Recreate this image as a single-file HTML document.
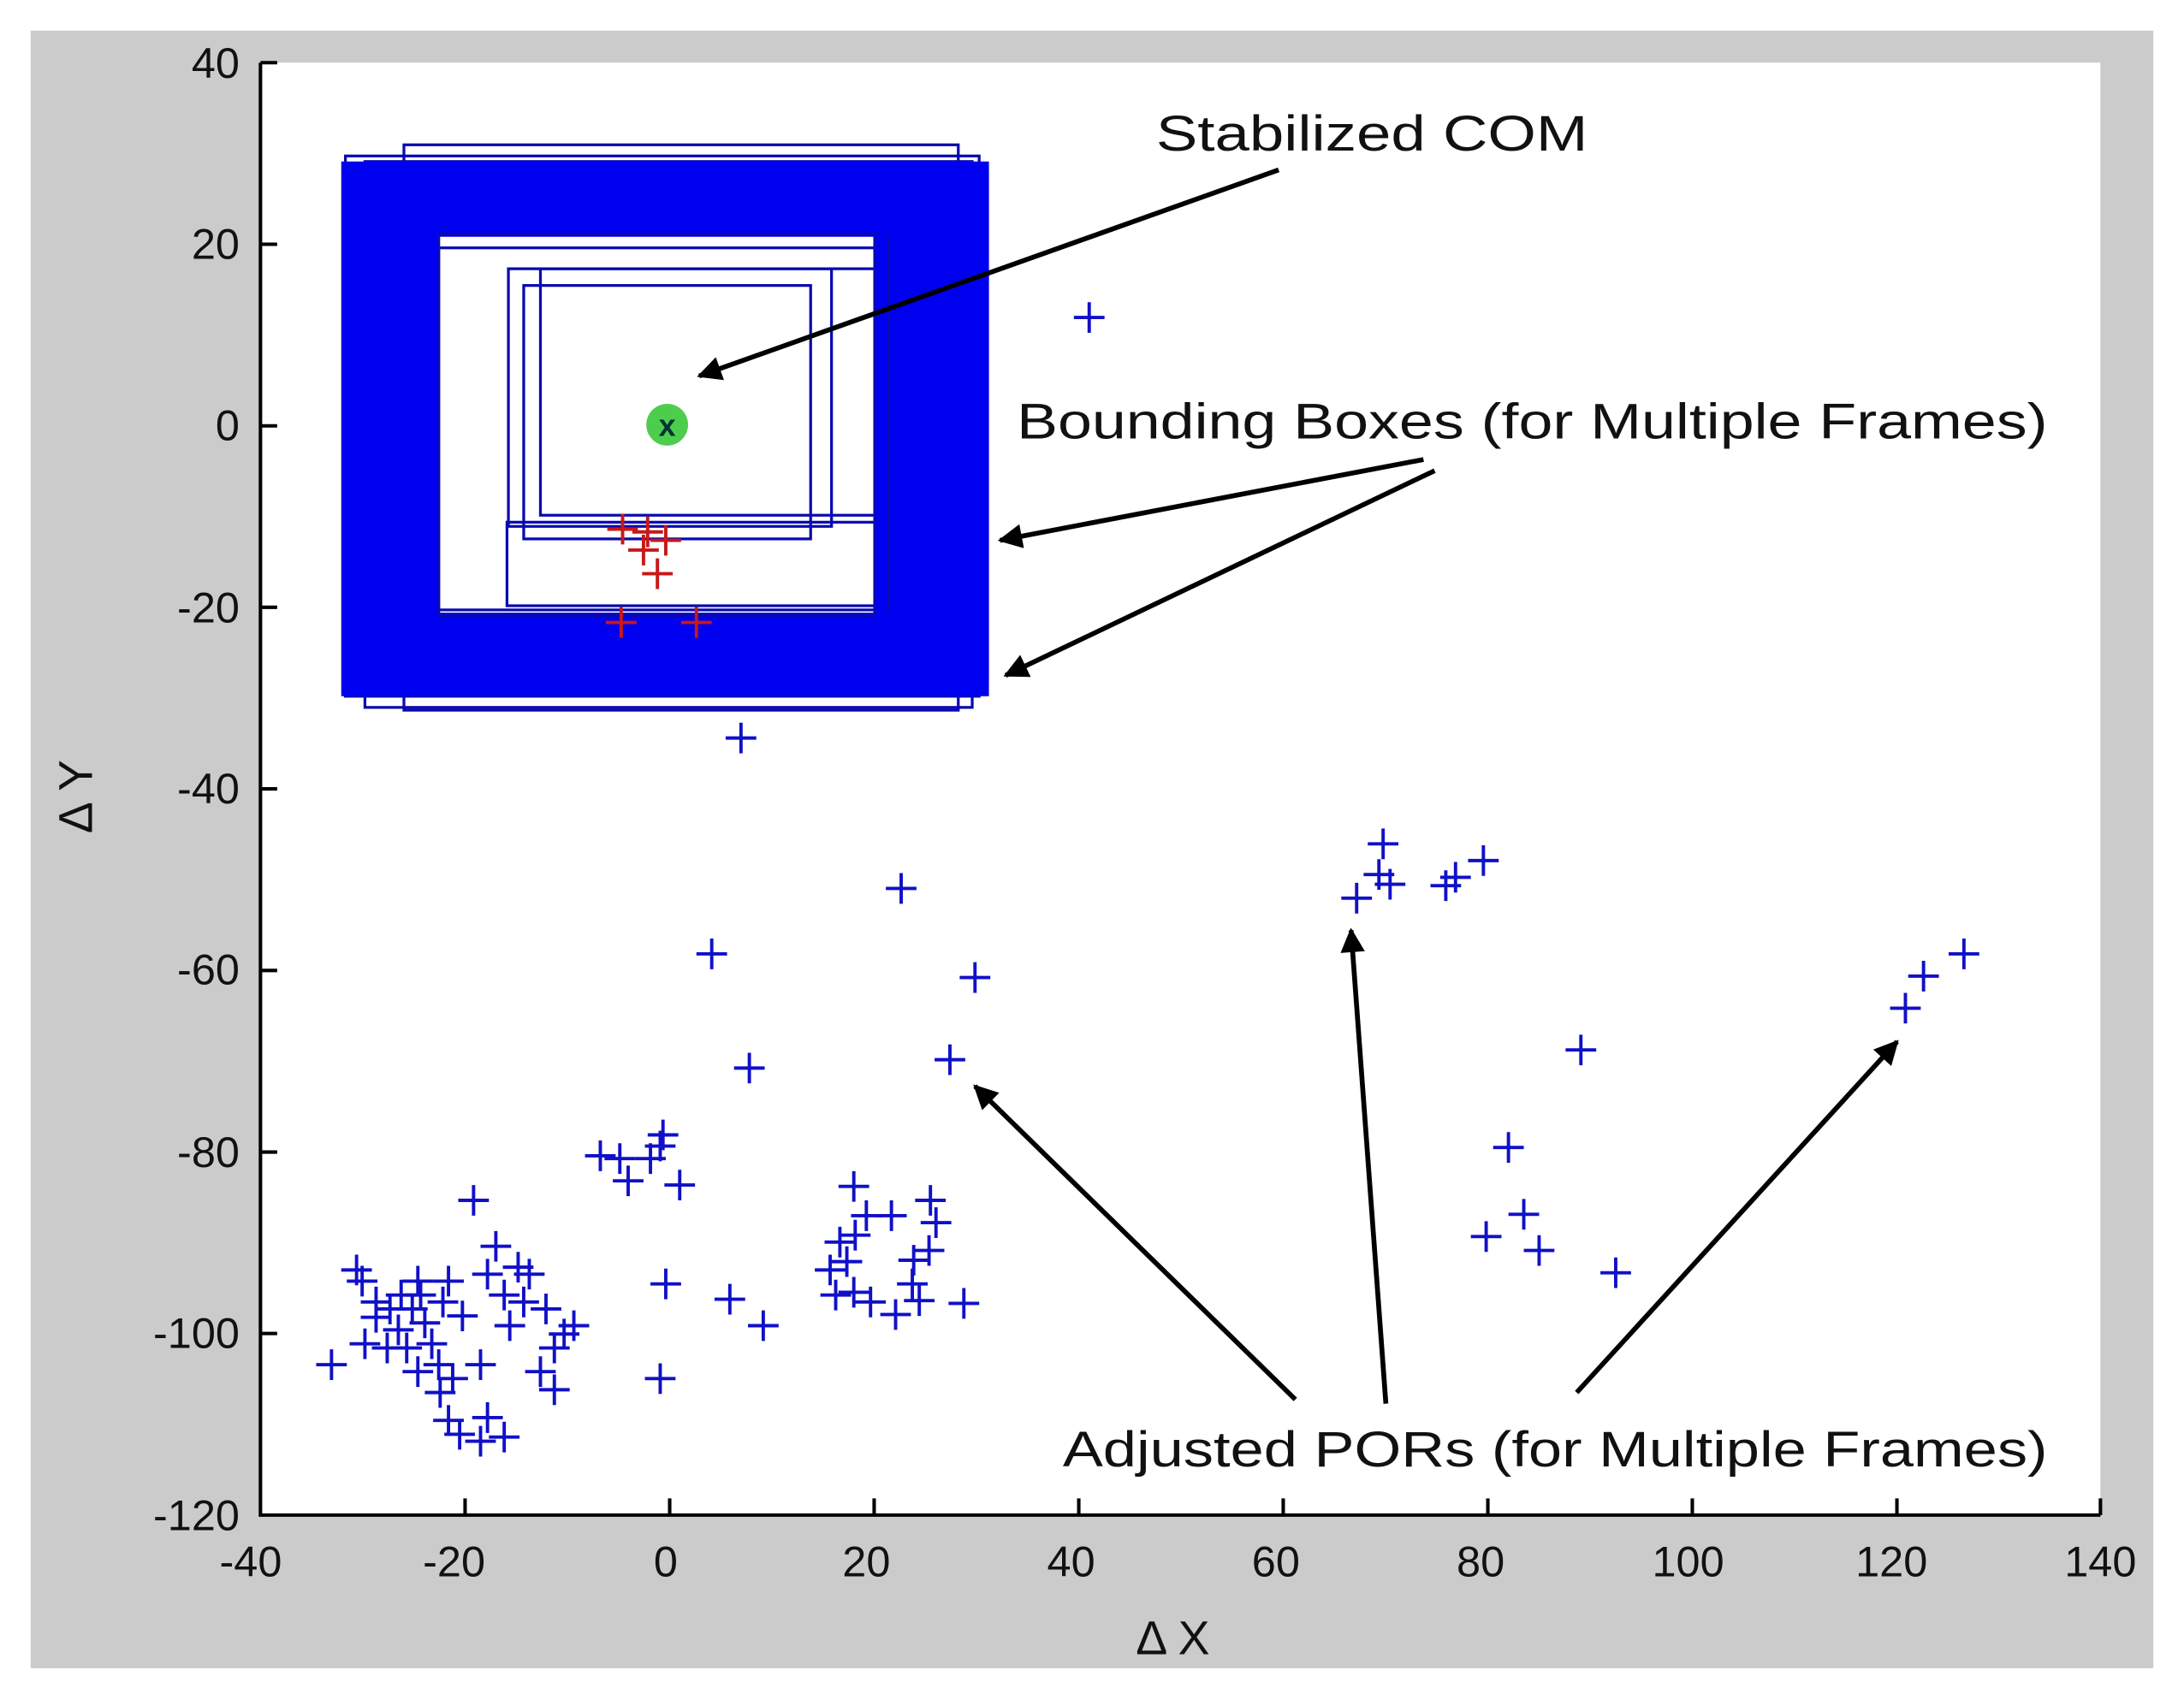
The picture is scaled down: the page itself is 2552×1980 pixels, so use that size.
<!DOCTYPE html>
<html><head><meta charset="utf-8"><style>html,body{margin:0;padding:0;background:#fff}svg{display:block}</style></head><body>
<svg width="2552" height="1980" viewBox="0 0 1568 1216.5" preserveAspectRatio="none" xmlns="http://www.w3.org/2000/svg">
<defs>
<marker id="ah" viewBox="0 0 10 10" refX="9" refY="5" markerWidth="6" markerHeight="5" orient="auto" markerUnits="strokeWidth"><path d="M0,0 L10,5 L0,10 z" fill="#000"/></marker>
<path id="p" d="M-11,0 H11 M0,-11 V11" stroke="#1010c8" stroke-width="2.4" fill="none"/>
<path id="r" d="M-11,0 H11 M0,-11 V11" stroke="#c81818" stroke-width="2.4" fill="none"/>
</defs>
<rect x="0" y="0" width="1568" height="1216.5" fill="#fff"/>
<rect x="22" y="22" width="1524" height="1176" fill="#cbcbcb"/>
<rect x="186" y="45" width="1322" height="1043" fill="#fff"/>
<!-- bounding boxes ring -->
<g fill="none" stroke="#0a0ab0" stroke-width="2">
<rect x="290" y="104" width="398" height="406"/>
<rect x="248" y="112" width="455" height="388"/>
<rect x="252" y="120" width="457" height="368"/>
<rect x="262" y="116" width="436" height="392"/>
</g>
<path fill="#0000f0" fill-rule="evenodd" d="M245,116 H710 V500 H245 Z M315,170 V440 H628 V170 Z"/>
<g fill="none" stroke="#0a0ab0" stroke-width="2">
<rect x="315" y="168" width="313" height="274"/>
<rect x="315" y="178" width="313" height="260"/>
<rect x="365" y="193" width="232" height="185"/>
<rect x="376" y="205" width="206" height="182"/>
<rect x="388" y="193" width="240" height="177"/>
<rect x="364" y="375" width="264" height="60"/>
<line x1="638" y1="170" x2="638" y2="440"/>
</g>
<g>
<use href="#r" x="447" y="380"/><use href="#r" x="465" y="382"/><use href="#r" x="478" y="388"/>
<use href="#r" x="462" y="395"/><use href="#r" x="472" y="412"/><use href="#r" x="446" y="447"/><use href="#r" x="500" y="447"/>
</g>
<circle cx="479" cy="305" r="15" fill="#3ac83a" opacity="0.9"/>
<text x="479" y="313" font-family="Liberation Sans, sans-serif" font-size="22" font-weight="bold" text-anchor="middle" fill="#033">x</text>
<!-- points -->
<g>
<use href="#p" x="782" y="228"/><use href="#p" x="532" y="530"/><use href="#p" x="647" y="638"/><use href="#p" x="511" y="685"/><use href="#p" x="700" y="702"/><use href="#p" x="538" y="767"/><use href="#p" x="682" y="761"/>
<use href="#p" x="431" y="830"/><use href="#p" x="445" y="832"/><use href="#p" x="451" y="848"/><use href="#p" x="467" y="832"/><use href="#p" x="474" y="823"/><use href="#p" x="476" y="815"/><use href="#p" x="488" y="851"/><use href="#p" x="478" y="922"/><use href="#p" x="474" y="990"/><use href="#p" x="524" y="933"/><use href="#p" x="548" y="952"/>
<use href="#p" x="596" y="912"/><use href="#p" x="600" y="930"/><use href="#p" x="608" y="906"/><use href="#p" x="613" y="852"/><use href="#p" x="614" y="887"/><use href="#p" x="613" y="928"/><use href="#p" x="622" y="873"/><use href="#p" x="625" y="935"/><use href="#p" x="640" y="873"/><use href="#p" x="643" y="944"/><use href="#p" x="655" y="922"/><use href="#p" x="660" y="934"/><use href="#p" x="667" y="898"/><use href="#p" x="668" y="862"/><use href="#p" x="672" y="878"/><use href="#p" x="692" y="936"/><use href="#p" x="656" y="905"/><use href="#p" x="603" y="892"/>
<use href="#p" x="238" y="980"/><use href="#p" x="256" y="912"/><use href="#p" x="260" y="920"/><use href="#p" x="262" y="965"/><use href="#p" x="270" y="946"/><use href="#p" x="278" y="968"/><use href="#p" x="288" y="930"/><use href="#p" x="292" y="968"/><use href="#p" x="296" y="940"/><use href="#p" x="300" y="920"/><use href="#p" x="305" y="950"/><use href="#p" x="310" y="965"/><use href="#p" x="315" y="980"/><use href="#p" x="318" y="935"/><use href="#p" x="322" y="920"/><use href="#p" x="325" y="990"/><use href="#p" x="340" y="862"/><use href="#p" x="332" y="945"/><use href="#p" x="345" y="980"/><use href="#p" x="350" y="915"/><use href="#p" x="356" y="895"/><use href="#p" x="362" y="930"/><use href="#p" x="366" y="952"/><use href="#p" x="372" y="910"/><use href="#p" x="376" y="935"/><use href="#p" x="380" y="915"/><use href="#p" x="388" y="985"/><use href="#p" x="392" y="940"/><use href="#p" x="398" y="968"/><use href="#p" x="405" y="958"/><use href="#p" x="412" y="952"/><use href="#p" x="398" y="998"/><use href="#p" x="322" y="1020"/><use href="#p" x="330" y="1030"/><use href="#p" x="345" y="1035"/><use href="#p" x="362" y="1032"/><use href="#p" x="350" y="1018"/><use href="#p" x="280" y="940"/><use href="#p" x="286" y="955"/><use href="#p" x="302" y="930"/><use href="#p" x="270" y="935"/><use href="#p" x="300" y="985"/><use href="#p" x="316" y="1000"/>
<use href="#p" x="974" y="645"/><use href="#p" x="993" y="606"/><use href="#p" x="990" y="628"/><use href="#p" x="998" y="635"/><use href="#p" x="1038" y="636"/><use href="#p" x="1045" y="630"/><use href="#p" x="1065" y="618"/><use href="#p" x="1135" y="754"/><use href="#p" x="1083" y="824"/><use href="#p" x="1067" y="888"/><use href="#p" x="1094" y="872"/><use href="#p" x="1105" y="898"/><use href="#p" x="1160" y="914"/><use href="#p" x="1368" y="724"/><use href="#p" x="1381" y="701"/><use href="#p" x="1410" y="685"/>
</g>
<!-- arrows -->
<g stroke="#000" stroke-width="3.5" fill="none" marker-end="url(#ah)">
<line x1="918" y1="122" x2="502" y2="270"/>
<line x1="1022" y1="330" x2="718" y2="388"/>
<line x1="1030" y1="338" x2="722" y2="485"/>
<line x1="930" y1="1005" x2="700" y2="780"/>
<line x1="995" y1="1008" x2="970" y2="668"/>
<line x1="1132" y1="1000" x2="1362" y2="748"/>
</g>
<g font-family="Liberation Sans, sans-serif" font-size="36" fill="#111">
<text x="830" y="108" textLength="310" lengthAdjust="spacingAndGlyphs">Stabilized COM</text>
<text x="730" y="315" textLength="740" lengthAdjust="spacingAndGlyphs">Bounding Boxes (for Multiple Frames)</text>
<text x="763" y="1053" textLength="707" lengthAdjust="spacingAndGlyphs">Adjusted PORs (for Multiple Frames)</text>
</g>
<!-- axes -->
<g stroke="#000" stroke-width="2.5" fill="none">
<path d="M187,45 V1088 H1508"/>
<path d="M187,45 h12 M187,175.4 h12 M187,305.8 h12 M187,436.1 h12 M187,566.5 h12 M187,696.9 h12 M187,827.3 h12 M187,957.6 h12"/>
<path d="M333.9,1088 v-12 M480.8,1088 v-12 M627.6,1088 v-12 M774.5,1088 v-12 M921.3,1088 v-12 M1068.2,1088 v-12 M1215,1088 v-12 M1361.9,1088 v-12 M1508,1088 v-12"/>
</g>
<g font-family="Liberation Sans, sans-serif" font-size="31" fill="#111" text-anchor="end">
<text x="172" y="56">40</text><text x="172" y="186">20</text><text x="172" y="316">0</text><text x="172" y="447">-20</text><text x="172" y="577">-40</text><text x="172" y="707">-60</text><text x="172" y="838">-80</text><text x="172" y="968">-100</text><text x="172" y="1099">-120</text>
</g>
<g font-family="Liberation Sans, sans-serif" font-size="31" fill="#111" text-anchor="middle">
<text x="180" y="1132">-40</text><text x="326" y="1132">-20</text><text x="478" y="1132">0</text><text x="622" y="1132">20</text><text x="769" y="1132">40</text><text x="916" y="1132">60</text><text x="1063" y="1132">80</text><text x="1212" y="1132">100</text><text x="1358" y="1132">120</text><text x="1508" y="1132">140</text>
<text x="842" y="1188" font-size="34">Δ X</text>
<text transform="translate(66,572) rotate(-90)" font-size="34">Δ Y</text>
</g>
</svg>
</body></html>
